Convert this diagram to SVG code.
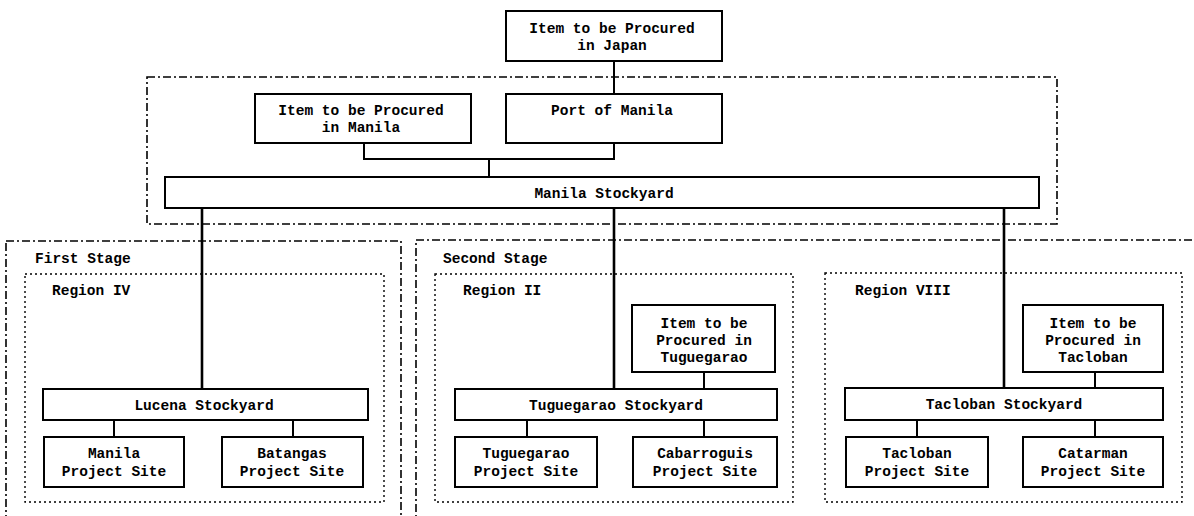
<svg xmlns="http://www.w3.org/2000/svg" width="1194" height="516" viewBox="0 0 1194 516">
<style>
.bg{fill:#fff}
.box{fill:#fff;stroke:#000;stroke-width:2}
.stage{fill:none;stroke:#000;stroke-width:1.6;stroke-dasharray:8 3 2 3}
.region{fill:none;stroke:#000;stroke-width:1.4;stroke-dasharray:2 3}
.conn{fill:none;stroke:#000;stroke-width:2}
.main{fill:none;stroke:#000;stroke-width:2.6}
text{font-family:"Liberation Mono","DejaVu Sans Mono",monospace;font-size:14.5px;fill:#000;font-weight:bold}
.c{text-anchor:middle}
</style>
<rect class="bg" x="0" y="0" width="1194" height="516"/>
<g id="groups">
<rect id="manila-area" class="stage" x="147" y="77" width="910" height="147"/>
<g id="first-stage">
<rect class="stage" x="6" y="241" width="395" height="290"/>
<text x="35" y="263">First Stage</text>
</g>
<g id="second-stage">
<rect class="stage" x="416" y="240" width="790" height="290"/>
<text x="443" y="263">Second Stage</text>
</g>
<g id="region-iv">
<rect class="region" x="25" y="274" width="359" height="228"/>
<text x="52" y="295">Region IV</text>
</g>
<g id="region-ii">
<rect class="region" x="435" y="274" width="358" height="228"/>
<text x="463" y="295">Region II</text>
</g>
<g id="region-viii">
<rect class="region" x="825" y="273" width="357" height="229"/>
<text x="855" y="295">Region VIII</text>
</g>
</g>
<g id="connectors">
<path class="conn" d="M614 61V94"/>
<path class="conn" d="M364 143V159H614V143M489 159V177"/>
<path class="main" d="M202 209V389M614 209V389M1004 208V388"/>
<path class="conn" d="M114 420V437M293 420V437"/>
<path class="conn" d="M704 372V389M527 420V437M704 420V437"/>
<path class="conn" d="M1095 372V388M917 420V437M1095 420V437"/>
</g>
<g id="item-japan">
<rect class="box" x="506" y="11" width="216" height="50"/>
<text class="c" x="612" y="33">Item to be Procured</text>
<text class="c" x="612" y="50">in Japan</text>
</g>
<g id="item-manila">
<rect class="box" x="255" y="94" width="216" height="49"/>
<text class="c" x="361" y="115">Item to be Procured</text>
<text class="c" x="361" y="132">in Manila</text>
</g>
<g id="port-manila">
<rect class="box" x="506" y="94" width="216" height="49"/>
<text class="c" x="612" y="115">Port of Manila</text>
</g>
<g id="manila-stockyard">
<rect class="box" x="165" y="177" width="874" height="31"/>
<text class="c" x="604" y="198">Manila Stockyard</text>
</g>
<g id="lucena-stockyard">
<rect class="box" x="43" y="389" width="325" height="31"/>
<text class="c" x="204" y="410">Lucena Stockyard</text>
</g>
<g id="manila-site">
<rect class="box" x="44" y="437" width="140" height="50"/>
<text class="c" x="114" y="458">Manila</text>
<text class="c" x="114" y="476">Project Site</text>
</g>
<g id="batangas-site">
<rect class="box" x="222" y="437" width="141" height="50"/>
<text class="c" x="292" y="458">Batangas</text>
<text class="c" x="292" y="476">Project Site</text>
</g>
<g id="item-tuguegarao">
<rect class="box" x="632" y="305" width="143" height="67"/>
<text class="c" x="704" y="328">Item to be</text>
<text class="c" x="704" y="345">Procured in</text>
<text class="c" x="704" y="362">Tuguegarao</text>
</g>
<g id="tuguegarao-stockyard">
<rect class="box" x="455" y="389" width="322" height="31"/>
<text class="c" x="616" y="410">Tuguegarao Stockyard</text>
</g>
<g id="tuguegarao-site">
<rect class="box" x="455" y="437" width="142" height="50"/>
<text class="c" x="526" y="458">Tuguegarao</text>
<text class="c" x="526" y="476">Project Site</text>
</g>
<g id="cabarroguis-site">
<rect class="box" x="633" y="437" width="144" height="50"/>
<text class="c" x="705" y="458">Cabarroguis</text>
<text class="c" x="705" y="476">Project Site</text>
</g>
<g id="item-tacloban">
<rect class="box" x="1023" y="305" width="140" height="67"/>
<text class="c" x="1093" y="328">Item to be</text>
<text class="c" x="1093" y="345">Procured in</text>
<text class="c" x="1093" y="362">Tacloban</text>
</g>
<g id="tacloban-stockyard">
<rect class="box" x="845" y="388" width="318" height="32"/>
<text class="c" x="1004" y="409">Tacloban Stockyard</text>
</g>
<g id="tacloban-site">
<rect class="box" x="846" y="437" width="142" height="50"/>
<text class="c" x="917" y="458">Tacloban</text>
<text class="c" x="917" y="476">Project Site</text>
</g>
<g id="catarman-site">
<rect class="box" x="1023" y="437" width="140" height="50"/>
<text class="c" x="1093" y="458">Catarman</text>
<text class="c" x="1093" y="476">Project Site</text>
</g>
</svg>
